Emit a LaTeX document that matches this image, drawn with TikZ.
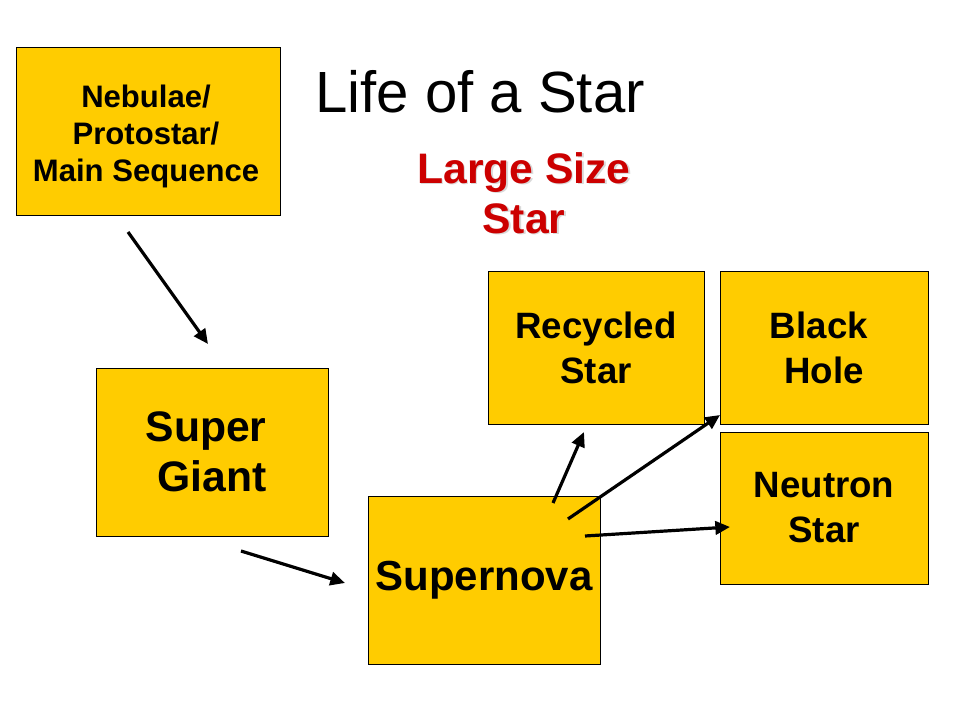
\documentclass[tikz,border=0pt]{standalone}
\usepackage{fontspec}
\setmainfont{Liberation Sans}
\usetikzlibrary{arrows.meta}
\definecolor{boxyellow}{HTML}{FFCC00}
\definecolor{titlered}{HTML}{CC0000}
\tikzset{
  stagebox/.style={draw=black, line width=0.75pt, fill=boxyellow, align=center, inner sep=0pt, font=\bfseries},
  flow/.style={line width=2.4pt, -{Triangle[length=11pt,width=10pt]}},
}
\begin{document}
\begin{tikzpicture}[x=0.75pt,y=-0.75pt]
\path[fill=white,use as bounding box] (0,0) rectangle (960,720);
% boxes
\node[stagebox, minimum width=198pt, minimum height=126pt] (neb) at (148,132) {};
\node[align=center, inner sep=0pt, font=\bfseries\fontsize{23.3pt}{27.75pt}\selectfont] (nebtext) at (146,136)
      {Nebulae/\\Protostar/\\Main Sequence};
\node[stagebox, minimum width=174pt, minimum height=126pt,
      font=\bfseries\fontsize{32pt}{37.5pt}\selectfont] (giant) at (212,452)
      {\rule{0pt}{0pt}Super\hspace*{0.278em}\\Giant};
\node[stagebox, minimum width=174pt, minimum height=126pt,
      font=\bfseries\fontsize{31.5pt}{37.5pt}\selectfont] (nova) at (484,580)
      {Supernova};
\node[stagebox, minimum width=162pt, minimum height=114pt,
      font=\bfseries\fontsize{27.5pt}{33.75pt}\selectfont] (recyc) at (596,348)
      {Recycled\\Star};
\node[stagebox, minimum width=156pt, minimum height=114pt,
      font=\bfseries\fontsize{27.5pt}{33.75pt}\selectfont] (hole) at (824,348)
      {Black\hspace*{0.278em}\\Hole};
\node[stagebox, minimum width=156pt, minimum height=114pt,
      font=\bfseries\fontsize{27.5pt}{33.75pt}\selectfont] (neutron) at (824,508)
      {Neutron\\Star};
% titles
\node[font=\fontsize{43.6pt}{50pt}\selectfont, inner sep=0pt] (title) at (480,92) {Life of a Star};
\node[font=\bfseries\fontsize{32pt}{37.5pt}\selectfont, align=center, inner sep=0pt, text=black!15] (subshadow) at (525.5,194.5) {Large Size\\Star};
\node[font=\bfseries\fontsize{32pt}{37.5pt}\selectfont, align=center, inner sep=0pt, text=titlered] (sub) at (524,193) {Large Size\\Star};
% arrow endpoints
\coordinate (a1s) at (128,232); \coordinate (a1e) at (208,344);
\coordinate (a2s) at (241,551); \coordinate (a2e) at (345,583);
\coordinate (a3s) at (553,503); \coordinate (a3e) at (584,432);
\coordinate (a4s) at (568,519); \coordinate (a4e) at (720,415);
\coordinate (a5s) at (585,536); \coordinate (a5e) at (730,527);
\draw[flow] (a1s) -- (a1e);
\draw[flow] (a2s) -- (a2e);
\draw[flow] (a3s) -- (a3e);
\draw[flow] (a4s) -- (a4e);
\draw[flow] (a5s) -- (a5e);
\end{tikzpicture}
\end{document}
